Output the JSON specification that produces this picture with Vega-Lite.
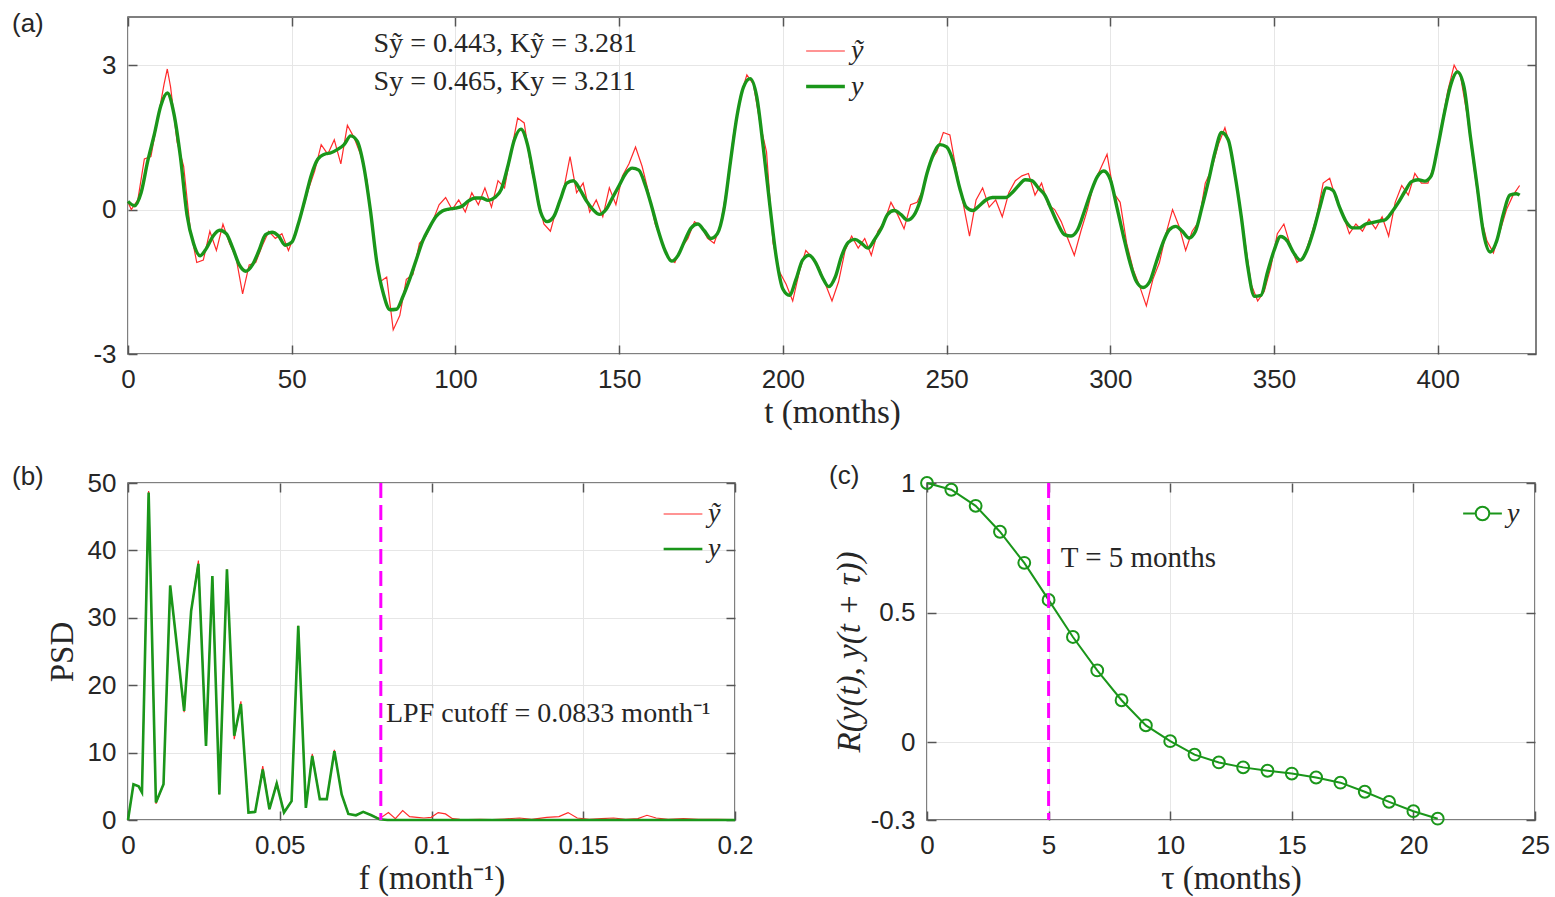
{
"$schema":"https://vega.github.io/schema/vega-lite/v6.json",
"padding":{"left":11,"top":10,"right":4,"bottom":4},
"background":"white",
"config":{
 "view":{"stroke":"#555555","strokeWidth":1.5},
 "axis":{"labelFont":"Liberation Sans","labelFontSize":26,"labelColor":"#262626","titleFont":"Liberation Serif","titleFontSize":33,"titleFontWeight":"normal","titleColor":"#262626","gridColor":"#e6e6e6","gridWidth":1,"domain":false,"tickColor":"#555555","tickSize":-9,"tickWidth":1.5,"labelPadding":21,"titlePadding":4,"labelFlush":false,"labelOverlap":false},
 "legend":{"orient":"none","title":null,"padding":0,"labelFont":"Liberation Serif","labelFontStyle":"italic","labelFontSize":28,"labelColor":"#262626","labelOffset":4,"rowPadding":-8,"symbolType":"stroke","symbolSize":1500},
 "title":{"anchor":"start","frame":"group","orient":"top","offset":0,"baseline":"top","font":"Liberation Sans","fontSize":26,"fontWeight":"normal","color":"#262626"}
},
"spacing":32,
"resolve":{"scale":{"color":"independent","strokeWidth":"independent"}},
"vconcat":[
 {
  "width":1408,"height":337,
  "title":{"text":"(a)","dx":-116,"dy":25},
  "resolve":{"axis":{"x":"independent","y":"independent"}},
  "layer":[
   {"data":{"name":"aRed"},"mark":{"type":"line","interpolate":"linear"},
    "encoding":{
     "x":{"field":"t","type":"quantitative","scale":{"domain":[0,430],"nice":false,"zero":false},"axis":{"values":[0,50,100,150,200,250,300,350,400],"title":"t (months)"}},
     "y":{"field":"v","type":"quantitative","scale":{"domain":[-3,4],"nice":false,"zero":false},"axis":{"values":[-3,0,3],"title":null,"labelExpr":"replace(format(datum.value,'~g'),'−','-')"}},
     "color":{"field":"s","type":"nominal","scale":{"domain":["ỹ","y"],"range":["#ff2a2a","#1a961a"]},"legend":{"legendX":676,"legendY":14}},
     "strokeWidth":{"field":"s","type":"nominal","scale":{"domain":["ỹ","y"],"range":[1.2,3.4]},"legend":{"legendX":676,"legendY":14}}
    }},
   {"data":{"name":"aGreen"},"mark":{"type":"line","interpolate":"monotone"},
    "encoding":{
     "x":{"field":"t","type":"quantitative","axis":null},
     "y":{"field":"v","type":"quantitative","axis":null},
     "color":{"field":"s","type":"nominal"},
     "strokeWidth":{"field":"s","type":"nominal"}
    }},
   {"data":{"name":"aText"},"mark":{"type":"text","align":"left","baseline":"middle","font":"Liberation Serif","fontSize":28,"color":"#262626"},
    "encoding":{
     "x":{"field":"x","type":"quantitative","axis":{"orient":"top","labels":false,"title":null,"grid":false,"values":[0,50,100,150,200,250,300,350,400]}},
     "y":{"field":"y","type":"quantitative","axis":{"orient":"right","labels":false,"title":null,"grid":false,"values":[-3,0,3]}},
     "text":{"field":"label"}}}
  ]
 },
 {
  "hconcat":[
   {
    "width":607,"height":337,
    "title":{"text":"(b)","dx":-116,"dy":24},
    "resolve":{"axis":{"x":"independent","y":"independent"}},
    "layer":[
     {"data":{"name":"bRed"},"mark":{"type":"line"},
      "encoding":{
       "x":{"field":"f","type":"quantitative","scale":{"domain":[0,0.2],"nice":false,"zero":false},"axis":{"values":[0,0.05,0.1,0.15,0.2],"format":"~g","title":"f (month⁻¹)"}},
       "y":{"field":"p","type":"quantitative","scale":{"domain":[0,50],"nice":false},"axis":{"values":[0,10,20,30,40,50],"title":"PSD","titlePadding":8}},
       "color":{"field":"s","type":"nominal","scale":{"domain":["ỹ","y"],"range":["#ff2a2a","#1a961a"]},"legend":{"legendX":534,"legendY":11,"rowPadding":-6}},
       "strokeWidth":{"field":"s","type":"nominal","scale":{"domain":["ỹ","y"],"range":[1.2,2.6]},"legend":{"legendX":534,"legendY":11,"rowPadding":-6}}
      }},
     {"data":{"name":"bGreen"},"mark":{"type":"line"},
      "encoding":{
       "x":{"field":"f","type":"quantitative","axis":null},
       "y":{"field":"p","type":"quantitative","axis":null},
       "color":{"field":"s","type":"nominal"},
       "strokeWidth":{"field":"s","type":"nominal"}
      }},
     {"data":{"name":"bRule"},"mark":{"type":"rule","color":"#ff00ff","strokeWidth":3,"strokeDash":[15,7]},"encoding":{"x":{"field":"x","type":"quantitative","axis":null}}},
     {"data":{"name":"bText"},"mark":{"type":"text","align":"left","baseline":"middle","font":"Liberation Serif","fontSize":28,"color":"#262626"},
      "encoding":{
       "x":{"field":"x","type":"quantitative","axis":{"orient":"top","labels":false,"title":null,"grid":false,"values":[0,0.05,0.1,0.15,0.2]}},
       "y":{"field":"y","type":"quantitative","axis":{"orient":"right","labels":false,"title":null,"grid":false,"values":[0,10,20,30,40,50]}},
       "text":{"field":"label"}}}
    ]
   },
   {
    "width":608,"height":337,
    "title":{"text":"(c)","dx":-98,"dy":23},
    "resolve":{"axis":{"x":"independent","y":"independent"}},
    "layer":[
     {"data":{"name":"cData"},"mark":{"type":"line","strokeWidth":2},
      "encoding":{
       "x":{"field":"tau","type":"quantitative","scale":{"domain":[0,25],"nice":false,"zero":false},"axis":{"values":[0,5,10,15,20,25],"title":"τ (months)"}},
       "y":{"field":"r","type":"quantitative","scale":{"domain":[-0.3,1],"nice":false,"zero":false},"axis":{"values":[-0.3,0,0.5,1],"labelExpr":"replace(format(datum.value,'~g'),'−','-')","title":"R(y(t), y(t + τ))","titleFontStyle":"italic","titlePadding":4}},
       "color":{"field":"s","type":"nominal","scale":{"domain":["y"],"range":["#1a961a"]},"legend":{"legendX":535,"legendY":10,"symbolType":"M-1,0H-0.35M0.35,0H1M0.35,0A0.35,0.35,0,1,1,-0.35,0A0.35,0.35,0,1,1,0.35,0","symbolSize":1500,"symbolStrokeWidth":2,"symbolFillColor":"transparent"}}
      }},
     {"data":{"name":"cData"},"mark":{"type":"point","shape":"circle","filled":false,"size":140,"strokeWidth":2,"color":"#1a961a","opacity":1},
      "encoding":{"x":{"field":"tau","type":"quantitative","axis":null},"y":{"field":"r","type":"quantitative","axis":null}}},
     {"data":{"name":"cRule"},"mark":{"type":"rule","color":"#ff00ff","strokeWidth":3,"strokeDash":[15,7]},"encoding":{"x":{"field":"x","type":"quantitative","axis":null}}},
     {"data":{"name":"cText"},"mark":{"type":"text","align":"left","baseline":"middle","font":"Liberation Serif","fontSize":29,"color":"#262626"},
      "encoding":{
       "x":{"field":"x","type":"quantitative","axis":{"orient":"top","labels":false,"title":null,"grid":false,"values":[0,5,10,15,20,25]}},
       "y":{"field":"y","type":"quantitative","axis":{"orient":"right","labels":false,"title":null,"grid":false,"values":[-0.3,0,0.5,1]}},
       "text":{"field":"label"}}}
    ]
   }
  ],
  "spacing":74,
  "resolve":{"scale":{"color":"independent","strokeWidth":"independent"}}
 }
],
"datasets":{
 "aText":[{"x":75,"y":3.44,"label":"Sỹ = 0.443,  Kỹ = 3.281"},{"x":75,"y":2.64,"label":"Sy = 0.465,  Ky = 3.211"}],
 "bText":[{"x":0.085,"y":15.8,"label":"LPF cutoff = 0.0833 month⁻¹"}],
 "cText":[{"x":5.5,"y":0.71,"label":"T = 5 months"}],
 "bRule":[{"x":0.0833}],
 "cRule":[{"x":5}],
 "cData":[
  {"tau":0,"r":1.0,"s":"y"},{"tau":1,"r":0.974,"s":"y"},{"tau":2,"r":0.912,"s":"y"},{"tau":3,"r":0.812,"s":"y"},{"tau":4,"r":0.692,"s":"y"},{"tau":5,"r":0.549,"s":"y"},{"tau":6,"r":0.406,"s":"y"},{"tau":7,"r":0.277,"s":"y"},{"tau":8,"r":0.162,"s":"y"},{"tau":9,"r":0.065,"s":"y"},{"tau":10,"r":0.004,"s":"y"},{"tau":11,"r":-0.048,"s":"y"},{"tau":12,"r":-0.078,"s":"y"},{"tau":13,"r":-0.097,"s":"y"},{"tau":14,"r":-0.11,"s":"y"},{"tau":15,"r":-0.121,"s":"y"},{"tau":16,"r":-0.136,"s":"y"},{"tau":17,"r":-0.156,"s":"y"},{"tau":18,"r":-0.191,"s":"y"},{"tau":19,"r":-0.23,"s":"y"},{"tau":20,"r":-0.266,"s":"y"},{"tau":21,"r":-0.295,"s":"y"}
 ],
 "bGreen":[
  {"f":0,"p":0,"s":"y"},{"f":0.0018,"p":5.3,"s":"y"},{"f":0.0035,"p":5.0,"s":"y"},{"f":0.0046,"p":4.1,"s":"y"},{"f":0.0068,"p":48.6,"s":"y"},{"f":0.0092,"p":2.6,"s":"y"},{"f":0.0117,"p":5.3,"s":"y"},{"f":0.0139,"p":34.8,"s":"y"},{"f":0.0185,"p":16.2,"s":"y"},{"f":0.0208,"p":31.0,"s":"y"},{"f":0.0232,"p":38.0,"s":"y"},{"f":0.0257,"p":11.0,"s":"y"},{"f":0.0278,"p":36.2,"s":"y"},{"f":0.0301,"p":3.8,"s":"y"},{"f":0.0326,"p":37.2,"s":"y"},{"f":0.035,"p":12.5,"s":"y"},{"f":0.0372,"p":17.2,"s":"y"},{"f":0.0397,"p":1.1,"s":"y"},{"f":0.0419,"p":1.2,"s":"y"},{"f":0.0444,"p":7.5,"s":"y"},{"f":0.0466,"p":1.6,"s":"y"},{"f":0.049,"p":5.4,"s":"y"},{"f":0.0514,"p":1.1,"s":"y"},{"f":0.0539,"p":2.8,"s":"y"},{"f":0.0561,"p":28.8,"s":"y"},{"f":0.0586,"p":1.8,"s":"y"},{"f":0.0607,"p":9.5,"s":"y"},{"f":0.0632,"p":3.1,"s":"y"},{"f":0.0655,"p":3.1,"s":"y"},{"f":0.068,"p":10.2,"s":"y"},{"f":0.0704,"p":3.8,"s":"y"},{"f":0.0726,"p":0.9,"s":"y"},{"f":0.0751,"p":0.7,"s":"y"},{"f":0.0775,"p":1.2,"s":"y"},{"f":0.0802,"p":0.7,"s":"y"},{"f":0.0829,"p":0.1,"s":"y"},{"f":0.0855,"p":0,"s":"y"},{"f":0.2,"p":0,"s":"y"}
 ],
 "bRed":[
  {"f":0,"p":0,"s":"ỹ"},{"f":0.0018,"p":5.3,"s":"ỹ"},{"f":0.0035,"p":5.0,"s":"ỹ"},{"f":0.0046,"p":4.1,"s":"ỹ"},{"f":0.0068,"p":48.8,"s":"ỹ"},{"f":0.0092,"p":2.4,"s":"ỹ"},{"f":0.0117,"p":5.3,"s":"ỹ"},{"f":0.0139,"p":34.8,"s":"ỹ"},{"f":0.0185,"p":16.0,"s":"ỹ"},{"f":0.0208,"p":31.0,"s":"ỹ"},{"f":0.0232,"p":38.5,"s":"ỹ"},{"f":0.0257,"p":11.0,"s":"ỹ"},{"f":0.0278,"p":36.2,"s":"ỹ"},{"f":0.0301,"p":3.8,"s":"ỹ"},{"f":0.0326,"p":37.2,"s":"ỹ"},{"f":0.035,"p":12.0,"s":"ỹ"},{"f":0.0372,"p":17.6,"s":"ỹ"},{"f":0.0397,"p":1.1,"s":"ỹ"},{"f":0.0419,"p":1.2,"s":"ỹ"},{"f":0.0444,"p":8.0,"s":"ỹ"},{"f":0.0466,"p":1.6,"s":"ỹ"},{"f":0.049,"p":5.6,"s":"ỹ"},{"f":0.0514,"p":1.1,"s":"ỹ"},{"f":0.0539,"p":2.8,"s":"ỹ"},{"f":0.0561,"p":28.8,"s":"ỹ"},{"f":0.0586,"p":1.8,"s":"ỹ"},{"f":0.0607,"p":9.8,"s":"ỹ"},{"f":0.0632,"p":3.1,"s":"ỹ"},{"f":0.0655,"p":3.1,"s":"ỹ"},{"f":0.068,"p":10.4,"s":"ỹ"},{"f":0.0704,"p":3.8,"s":"ỹ"},{"f":0.0726,"p":0.9,"s":"ỹ"},{"f":0.0751,"p":0.7,"s":"ỹ"},{"f":0.0775,"p":1.2,"s":"ỹ"},{"f":0.0802,"p":0.7,"s":"ỹ"},{"f":0.0829,"p":0.2,"s":"ỹ"},{"f":0.0858,"p":1.1,"s":"ỹ"},{"f":0.0881,"p":0.2,"s":"ỹ"},{"f":0.0905,"p":1.4,"s":"ỹ"},{"f":0.0928,"p":0.5,"s":"ỹ"},{"f":0.0952,"p":0.4,"s":"ỹ"},{"f":0.0975,"p":0.3,"s":"ỹ"},{"f":0.0999,"p":0.4,"s":"ỹ"},{"f":0.1022,"p":1.1,"s":"ỹ"},{"f":0.1046,"p":0.9,"s":"ỹ"},{"f":0.1069,"p":0.2,"s":"ỹ"},{"f":0.1093,"p":0.1,"s":"ỹ"},{"f":0.112,"p":0.05,"s":"ỹ"},{"f":0.116,"p":0.1,"s":"ỹ"},{"f":0.12,"p":0.05,"s":"ỹ"},{"f":0.124,"p":0.15,"s":"ỹ"},{"f":0.129,"p":0.3,"s":"ỹ"},{"f":0.133,"p":0.1,"s":"ỹ"},{"f":0.138,"p":0.4,"s":"ỹ"},{"f":0.142,"p":0.5,"s":"ỹ"},{"f":0.145,"p":1.1,"s":"ỹ"},{"f":0.148,"p":0.3,"s":"ỹ"},{"f":0.152,"p":0.1,"s":"ỹ"},{"f":0.156,"p":0.2,"s":"ỹ"},{"f":0.16,"p":0.3,"s":"ỹ"},{"f":0.164,"p":0.1,"s":"ỹ"},{"f":0.168,"p":0.2,"s":"ỹ"},{"f":0.171,"p":0.7,"s":"ỹ"},{"f":0.174,"p":0.3,"s":"ỹ"},{"f":0.178,"p":0.1,"s":"ỹ"},{"f":0.183,"p":0.2,"s":"ỹ"},{"f":0.188,"p":0.1,"s":"ỹ"},{"f":0.194,"p":0.1,"s":"ỹ"},{"f":0.2,"p":0.05,"s":"ỹ"}
 ],
 "aGreen":[
  {"t":0,"v":0.17,"s":"y"},{"t":2,"v":0.08,"s":"y"},{"t":4,"v":0.35,"s":"y"},{"t":6,"v":1.0,"s":"y"},{"t":8,"v":1.55,"s":"y"},{"t":10,"v":2.15,"s":"y"},{"t":12,"v":2.42,"s":"y"},{"t":14,"v":2.0,"s":"y"},{"t":16,"v":1.1,"s":"y"},{"t":18,"v":-0.1,"s":"y"},{"t":20,"v":-0.7,"s":"y"},{"t":22,"v":-0.96,"s":"y"},{"t":24,"v":-0.8,"s":"y"},{"t":26,"v":-0.55,"s":"y"},{"t":28,"v":-0.43,"s":"y"},{"t":30,"v":-0.5,"s":"y"},{"t":32,"v":-0.8,"s":"y"},{"t":34,"v":-1.15,"s":"y"},{"t":36,"v":-1.28,"s":"y"},{"t":38,"v":-1.15,"s":"y"},{"t":40,"v":-0.85,"s":"y"},{"t":42,"v":-0.52,"s":"y"},{"t":44,"v":-0.47,"s":"y"},{"t":46,"v":-0.55,"s":"y"},{"t":48,"v":-0.74,"s":"y"},{"t":50,"v":-0.68,"s":"y"},{"t":52,"v":-0.3,"s":"y"},{"t":54,"v":0.2,"s":"y"},{"t":56,"v":0.72,"s":"y"},{"t":58,"v":1.05,"s":"y"},{"t":60,"v":1.15,"s":"y"},{"t":62,"v":1.18,"s":"y"},{"t":64,"v":1.25,"s":"y"},{"t":66,"v":1.35,"s":"y"},{"t":68,"v":1.53,"s":"y"},{"t":70,"v":1.42,"s":"y"},{"t":72,"v":0.9,"s":"y"},{"t":74,"v":0.0,"s":"y"},{"t":76,"v":-1.1,"s":"y"},{"t":78,"v":-1.75,"s":"y"},{"t":80,"v":-2.08,"s":"y"},{"t":82,"v":-2.07,"s":"y"},{"t":84,"v":-1.8,"s":"y"},{"t":86,"v":-1.45,"s":"y"},{"t":88,"v":-1.05,"s":"y"},{"t":90,"v":-0.65,"s":"y"},{"t":92,"v":-0.38,"s":"y"},{"t":94,"v":-0.15,"s":"y"},{"t":96,"v":-0.03,"s":"y"},{"t":98,"v":0.01,"s":"y"},{"t":100,"v":0.03,"s":"y"},{"t":102,"v":0.07,"s":"y"},{"t":104,"v":0.18,"s":"y"},{"t":106,"v":0.24,"s":"y"},{"t":108,"v":0.24,"s":"y"},{"t":110,"v":0.19,"s":"y"},{"t":112,"v":0.25,"s":"y"},{"t":114,"v":0.42,"s":"y"},{"t":116,"v":0.9,"s":"y"},{"t":118,"v":1.45,"s":"y"},{"t":120,"v":1.67,"s":"y"},{"t":122,"v":1.35,"s":"y"},{"t":124,"v":0.65,"s":"y"},{"t":126,"v":-0.05,"s":"y"},{"t":128,"v":-0.25,"s":"y"},{"t":130,"v":-0.15,"s":"y"},{"t":132,"v":0.2,"s":"y"},{"t":134,"v":0.55,"s":"y"},{"t":136,"v":0.6,"s":"y"},{"t":138,"v":0.42,"s":"y"},{"t":140,"v":0.18,"s":"y"},{"t":142,"v":0.0,"s":"y"},{"t":144,"v":-0.1,"s":"y"},{"t":146,"v":0.0,"s":"y"},{"t":148,"v":0.25,"s":"y"},{"t":150,"v":0.5,"s":"y"},{"t":152,"v":0.75,"s":"y"},{"t":154,"v":0.86,"s":"y"},{"t":156,"v":0.82,"s":"y"},{"t":158,"v":0.5,"s":"y"},{"t":160,"v":0.05,"s":"y"},{"t":162,"v":-0.45,"s":"y"},{"t":164,"v":-0.85,"s":"y"},{"t":166,"v":-1.07,"s":"y"},{"t":168,"v":-0.95,"s":"y"},{"t":170,"v":-0.65,"s":"y"},{"t":172,"v":-0.38,"s":"y"},{"t":174,"v":-0.3,"s":"y"},{"t":176,"v":-0.44,"s":"y"},{"t":178,"v":-0.6,"s":"y"},{"t":180,"v":-0.5,"s":"y"},{"t":182,"v":0.0,"s":"y"},{"t":184,"v":1.0,"s":"y"},{"t":186,"v":1.95,"s":"y"},{"t":188,"v":2.55,"s":"y"},{"t":190,"v":2.72,"s":"y"},{"t":192,"v":2.35,"s":"y"},{"t":194,"v":1.3,"s":"y"},{"t":196,"v":0.1,"s":"y"},{"t":198,"v":-1.0,"s":"y"},{"t":200,"v":-1.65,"s":"y"},{"t":202,"v":-1.78,"s":"y"},{"t":204,"v":-1.45,"s":"y"},{"t":206,"v":-1.05,"s":"y"},{"t":208,"v":-0.95,"s":"y"},{"t":210,"v":-1.1,"s":"y"},{"t":212,"v":-1.4,"s":"y"},{"t":214,"v":-1.6,"s":"y"},{"t":216,"v":-1.4,"s":"y"},{"t":218,"v":-0.95,"s":"y"},{"t":220,"v":-0.68,"s":"y"},{"t":222,"v":-0.62,"s":"y"},{"t":224,"v":-0.7,"s":"y"},{"t":226,"v":-0.8,"s":"y"},{"t":228,"v":-0.62,"s":"y"},{"t":230,"v":-0.4,"s":"y"},{"t":232,"v":-0.1,"s":"y"},{"t":234,"v":-0.02,"s":"y"},{"t":236,"v":-0.1,"s":"y"},{"t":238,"v":-0.22,"s":"y"},{"t":240,"v":-0.12,"s":"y"},{"t":242,"v":0.2,"s":"y"},{"t":244,"v":0.75,"s":"y"},{"t":246,"v":1.15,"s":"y"},{"t":248,"v":1.35,"s":"y"},{"t":250,"v":1.3,"s":"y"},{"t":252,"v":1.0,"s":"y"},{"t":254,"v":0.45,"s":"y"},{"t":256,"v":0.05,"s":"y"},{"t":258,"v":-0.02,"s":"y"},{"t":260,"v":0.08,"s":"y"},{"t":262,"v":0.2,"s":"y"},{"t":264,"v":0.25,"s":"y"},{"t":266,"v":0.25,"s":"y"},{"t":268,"v":0.25,"s":"y"},{"t":270,"v":0.35,"s":"y"},{"t":272,"v":0.5,"s":"y"},{"t":274,"v":0.62,"s":"y"},{"t":276,"v":0.6,"s":"y"},{"t":278,"v":0.45,"s":"y"},{"t":280,"v":0.3,"s":"y"},{"t":282,"v":0.0,"s":"y"},{"t":284,"v":-0.3,"s":"y"},{"t":286,"v":-0.52,"s":"y"},{"t":288,"v":-0.55,"s":"y"},{"t":290,"v":-0.42,"s":"y"},{"t":292,"v":-0.05,"s":"y"},{"t":294,"v":0.35,"s":"y"},{"t":296,"v":0.68,"s":"y"},{"t":298,"v":0.8,"s":"y"},{"t":300,"v":0.62,"s":"y"},{"t":302,"v":0.05,"s":"y"},{"t":304,"v":-0.55,"s":"y"},{"t":306,"v":-1.1,"s":"y"},{"t":308,"v":-1.5,"s":"y"},{"t":310,"v":-1.62,"s":"y"},{"t":312,"v":-1.5,"s":"y"},{"t":314,"v":-1.1,"s":"y"},{"t":316,"v":-0.7,"s":"y"},{"t":318,"v":-0.42,"s":"y"},{"t":320,"v":-0.35,"s":"y"},{"t":322,"v":-0.45,"s":"y"},{"t":324,"v":-0.59,"s":"y"},{"t":326,"v":-0.45,"s":"y"},{"t":328,"v":0.05,"s":"y"},{"t":330,"v":0.6,"s":"y"},{"t":332,"v":1.2,"s":"y"},{"t":334,"v":1.6,"s":"y"},{"t":336,"v":1.45,"s":"y"},{"t":338,"v":0.75,"s":"y"},{"t":340,"v":-0.15,"s":"y"},{"t":342,"v":-1.2,"s":"y"},{"t":344,"v":-1.8,"s":"y"},{"t":346,"v":-1.78,"s":"y"},{"t":348,"v":-1.3,"s":"y"},{"t":350,"v":-0.85,"s":"y"},{"t":352,"v":-0.56,"s":"y"},{"t":354,"v":-0.65,"s":"y"},{"t":356,"v":-0.9,"s":"y"},{"t":358,"v":-1.05,"s":"y"},{"t":360,"v":-0.85,"s":"y"},{"t":362,"v":-0.45,"s":"y"},{"t":364,"v":0.05,"s":"y"},{"t":366,"v":0.45,"s":"y"},{"t":368,"v":0.4,"s":"y"},{"t":370,"v":0.05,"s":"y"},{"t":372,"v":-0.25,"s":"y"},{"t":374,"v":-0.38,"s":"y"},{"t":376,"v":-0.38,"s":"y"},{"t":378,"v":-0.3,"s":"y"},{"t":380,"v":-0.27,"s":"y"},{"t":382,"v":-0.24,"s":"y"},{"t":384,"v":-0.21,"s":"y"},{"t":386,"v":-0.05,"s":"y"},{"t":388,"v":0.15,"s":"y"},{"t":390,"v":0.38,"s":"y"},{"t":392,"v":0.58,"s":"y"},{"t":394,"v":0.62,"s":"y"},{"t":396,"v":0.59,"s":"y"},{"t":398,"v":0.7,"s":"y"},{"t":400,"v":1.3,"s":"y"},{"t":402,"v":2.0,"s":"y"},{"t":404,"v":2.6,"s":"y"},{"t":406,"v":2.86,"s":"y"},{"t":408,"v":2.55,"s":"y"},{"t":410,"v":1.5,"s":"y"},{"t":412,"v":0.5,"s":"y"},{"t":414,"v":-0.5,"s":"y"},{"t":416,"v":-0.88,"s":"y"},{"t":418,"v":-0.65,"s":"y"},{"t":420,"v":-0.1,"s":"y"},{"t":422,"v":0.3,"s":"y"},{"t":424,"v":0.33,"s":"y"},{"t":425,"v":0.3,"s":"y"}
 ],
 "aRed":[
  {"t":0,"v":0.15,"s":"ỹ"},{"t":1,"v":0.0,"s":"ỹ"},{"t":3,"v":0.2,"s":"ỹ"},{"t":5,"v":1.05,"s":"ỹ"},{"t":7,"v":1.1,"s":"ỹ"},{"t":9,"v":1.85,"s":"ỹ"},{"t":11,"v":2.6,"s":"ỹ"},{"t":12,"v":2.92,"s":"ỹ"},{"t":13,"v":2.55,"s":"ỹ"},{"t":15,"v":1.4,"s":"ỹ"},{"t":17,"v":0.9,"s":"ỹ"},{"t":19,"v":-0.4,"s":"ỹ"},{"t":21,"v":-1.1,"s":"ỹ"},{"t":23,"v":-1.05,"s":"ỹ"},{"t":25,"v":-0.45,"s":"ỹ"},{"t":27,"v":-0.85,"s":"ỹ"},{"t":29,"v":-0.3,"s":"ỹ"},{"t":31,"v":-0.7,"s":"ỹ"},{"t":33,"v":-1.0,"s":"ỹ"},{"t":35,"v":-1.75,"s":"ỹ"},{"t":37,"v":-1.15,"s":"ỹ"},{"t":39,"v":-1.1,"s":"ỹ"},{"t":41,"v":-0.75,"s":"ỹ"},{"t":43,"v":-0.45,"s":"ỹ"},{"t":45,"v":-0.6,"s":"ỹ"},{"t":47,"v":-0.5,"s":"ỹ"},{"t":49,"v":-0.85,"s":"ỹ"},{"t":51,"v":-0.5,"s":"ỹ"},{"t":53,"v":-0.1,"s":"ỹ"},{"t":55,"v":0.4,"s":"ỹ"},{"t":57,"v":0.8,"s":"ỹ"},{"t":59,"v":1.35,"s":"ỹ"},{"t":61,"v":1.15,"s":"ỹ"},{"t":63,"v":1.45,"s":"ỹ"},{"t":65,"v":0.95,"s":"ỹ"},{"t":67,"v":1.75,"s":"ỹ"},{"t":69,"v":1.5,"s":"ỹ"},{"t":71,"v":1.15,"s":"ỹ"},{"t":73,"v":0.6,"s":"ỹ"},{"t":75,"v":-0.6,"s":"ỹ"},{"t":77,"v":-1.5,"s":"ỹ"},{"t":79,"v":-1.4,"s":"ỹ"},{"t":81,"v":-2.5,"s":"ỹ"},{"t":83,"v":-2.2,"s":"ỹ"},{"t":85,"v":-1.45,"s":"ỹ"},{"t":87,"v":-1.35,"s":"ỹ"},{"t":89,"v":-0.7,"s":"ỹ"},{"t":91,"v":-0.55,"s":"ỹ"},{"t":93,"v":-0.25,"s":"ỹ"},{"t":95,"v":0.1,"s":"ỹ"},{"t":97,"v":0.25,"s":"ỹ"},{"t":99,"v":0.0,"s":"ỹ"},{"t":101,"v":0.2,"s":"ỹ"},{"t":103,"v":-0.05,"s":"ỹ"},{"t":105,"v":0.35,"s":"ỹ"},{"t":107,"v":0.1,"s":"ỹ"},{"t":109,"v":0.45,"s":"ỹ"},{"t":111,"v":0.05,"s":"ỹ"},{"t":113,"v":0.6,"s":"ỹ"},{"t":115,"v":0.45,"s":"ỹ"},{"t":117,"v":1.2,"s":"ỹ"},{"t":119,"v":1.9,"s":"ỹ"},{"t":121,"v":1.8,"s":"ỹ"},{"t":123,"v":0.9,"s":"ỹ"},{"t":125,"v":0.3,"s":"ỹ"},{"t":127,"v":-0.3,"s":"ỹ"},{"t":129,"v":-0.45,"s":"ỹ"},{"t":131,"v":0.05,"s":"ỹ"},{"t":133,"v":0.4,"s":"ỹ"},{"t":135,"v":1.1,"s":"ỹ"},{"t":137,"v":0.35,"s":"ỹ"},{"t":139,"v":0.55,"s":"ỹ"},{"t":141,"v":-0.05,"s":"ỹ"},{"t":143,"v":0.2,"s":"ỹ"},{"t":145,"v":-0.15,"s":"ỹ"},{"t":147,"v":0.45,"s":"ỹ"},{"t":149,"v":0.1,"s":"ỹ"},{"t":151,"v":0.7,"s":"ỹ"},{"t":153,"v":0.95,"s":"ỹ"},{"t":155,"v":1.3,"s":"ỹ"},{"t":157,"v":0.9,"s":"ỹ"},{"t":159,"v":0.35,"s":"ỹ"},{"t":161,"v":-0.3,"s":"ỹ"},{"t":163,"v":-0.65,"s":"ỹ"},{"t":165,"v":-1.0,"s":"ỹ"},{"t":167,"v":-1.1,"s":"ỹ"},{"t":169,"v":-0.8,"s":"ỹ"},{"t":171,"v":-0.6,"s":"ỹ"},{"t":173,"v":-0.25,"s":"ỹ"},{"t":175,"v":-0.35,"s":"ỹ"},{"t":177,"v":-0.6,"s":"ỹ"},{"t":179,"v":-0.7,"s":"ỹ"},{"t":181,"v":-0.3,"s":"ỹ"},{"t":183,"v":0.5,"s":"ỹ"},{"t":185,"v":1.6,"s":"ỹ"},{"t":187,"v":2.35,"s":"ỹ"},{"t":189,"v":2.8,"s":"ỹ"},{"t":191,"v":2.6,"s":"ỹ"},{"t":193,"v":1.8,"s":"ỹ"},{"t":195,"v":1.2,"s":"ỹ"},{"t":197,"v":-0.7,"s":"ỹ"},{"t":199,"v":-1.3,"s":"ỹ"},{"t":201,"v":-1.55,"s":"ỹ"},{"t":203,"v":-1.9,"s":"ỹ"},{"t":205,"v":-1.3,"s":"ỹ"},{"t":207,"v":-0.85,"s":"ỹ"},{"t":209,"v":-1.0,"s":"ỹ"},{"t":211,"v":-1.2,"s":"ỹ"},{"t":213,"v":-1.55,"s":"ỹ"},{"t":215,"v":-1.9,"s":"ỹ"},{"t":217,"v":-1.5,"s":"ỹ"},{"t":219,"v":-0.85,"s":"ỹ"},{"t":221,"v":-0.55,"s":"ỹ"},{"t":223,"v":-0.8,"s":"ỹ"},{"t":225,"v":-0.6,"s":"ỹ"},{"t":227,"v":-0.95,"s":"ỹ"},{"t":229,"v":-0.45,"s":"ỹ"},{"t":231,"v":-0.25,"s":"ỹ"},{"t":233,"v":0.15,"s":"ỹ"},{"t":235,"v":-0.1,"s":"ỹ"},{"t":237,"v":-0.4,"s":"ỹ"},{"t":239,"v":0.1,"s":"ỹ"},{"t":241,"v":0.15,"s":"ỹ"},{"t":243,"v":0.45,"s":"ỹ"},{"t":245,"v":1.0,"s":"ỹ"},{"t":247,"v":1.2,"s":"ỹ"},{"t":249,"v":1.6,"s":"ỹ"},{"t":251,"v":1.55,"s":"ỹ"},{"t":253,"v":0.8,"s":"ỹ"},{"t":255,"v":0.15,"s":"ỹ"},{"t":257,"v":-0.55,"s":"ỹ"},{"t":259,"v":0.2,"s":"ỹ"},{"t":261,"v":0.45,"s":"ỹ"},{"t":263,"v":0.05,"s":"ỹ"},{"t":265,"v":0.2,"s":"ỹ"},{"t":267,"v":-0.15,"s":"ỹ"},{"t":269,"v":0.35,"s":"ỹ"},{"t":271,"v":0.6,"s":"ỹ"},{"t":273,"v":0.7,"s":"ỹ"},{"t":275,"v":0.75,"s":"ỹ"},{"t":277,"v":0.3,"s":"ỹ"},{"t":279,"v":0.55,"s":"ỹ"},{"t":281,"v":0.1,"s":"ỹ"},{"t":283,"v":0.0,"s":"ỹ"},{"t":285,"v":-0.25,"s":"ỹ"},{"t":287,"v":-0.6,"s":"ỹ"},{"t":289,"v":-0.95,"s":"ỹ"},{"t":291,"v":-0.45,"s":"ỹ"},{"t":293,"v":0.0,"s":"ỹ"},{"t":295,"v":0.55,"s":"ỹ"},{"t":297,"v":0.85,"s":"ỹ"},{"t":299,"v":1.15,"s":"ỹ"},{"t":301,"v":0.35,"s":"ỹ"},{"t":303,"v":0.15,"s":"ỹ"},{"t":305,"v":-0.7,"s":"ỹ"},{"t":307,"v":-1.25,"s":"ỹ"},{"t":309,"v":-1.6,"s":"ỹ"},{"t":311,"v":-2.0,"s":"ỹ"},{"t":313,"v":-1.45,"s":"ỹ"},{"t":315,"v":-1.1,"s":"ỹ"},{"t":317,"v":-0.5,"s":"ỹ"},{"t":319,"v":0.0,"s":"ỹ"},{"t":321,"v":-0.35,"s":"ỹ"},{"t":323,"v":-0.85,"s":"ỹ"},{"t":325,"v":-0.45,"s":"ỹ"},{"t":327,"v":-0.25,"s":"ỹ"},{"t":329,"v":0.55,"s":"ỹ"},{"t":331,"v":0.85,"s":"ỹ"},{"t":333,"v":1.35,"s":"ỹ"},{"t":335,"v":1.7,"s":"ỹ"},{"t":337,"v":1.2,"s":"ỹ"},{"t":339,"v":0.35,"s":"ỹ"},{"t":341,"v":-0.6,"s":"ỹ"},{"t":343,"v":-1.55,"s":"ỹ"},{"t":345,"v":-1.9,"s":"ỹ"},{"t":347,"v":-1.7,"s":"ỹ"},{"t":349,"v":-1.2,"s":"ỹ"},{"t":351,"v":-0.5,"s":"ỹ"},{"t":353,"v":-0.3,"s":"ỹ"},{"t":355,"v":-0.75,"s":"ỹ"},{"t":357,"v":-1.1,"s":"ỹ"},{"t":359,"v":-1.0,"s":"ỹ"},{"t":361,"v":-0.6,"s":"ỹ"},{"t":363,"v":-0.15,"s":"ỹ"},{"t":365,"v":0.55,"s":"ỹ"},{"t":367,"v":0.65,"s":"ỹ"},{"t":369,"v":0.2,"s":"ỹ"},{"t":371,"v":-0.1,"s":"ỹ"},{"t":373,"v":-0.5,"s":"ỹ"},{"t":375,"v":-0.3,"s":"ỹ"},{"t":377,"v":-0.45,"s":"ỹ"},{"t":379,"v":-0.2,"s":"ỹ"},{"t":381,"v":-0.4,"s":"ỹ"},{"t":383,"v":-0.15,"s":"ỹ"},{"t":385,"v":-0.55,"s":"ỹ"},{"t":387,"v":0.15,"s":"ỹ"},{"t":389,"v":0.5,"s":"ỹ"},{"t":391,"v":0.3,"s":"ỹ"},{"t":393,"v":0.75,"s":"ỹ"},{"t":395,"v":0.55,"s":"ỹ"},{"t":397,"v":0.55,"s":"ỹ"},{"t":399,"v":0.95,"s":"ỹ"},{"t":401,"v":1.7,"s":"ỹ"},{"t":403,"v":2.45,"s":"ỹ"},{"t":405,"v":3.0,"s":"ỹ"},{"t":407,"v":2.75,"s":"ỹ"},{"t":409,"v":1.95,"s":"ỹ"},{"t":411,"v":0.9,"s":"ỹ"},{"t":413,"v":-0.1,"s":"ỹ"},{"t":415,"v":-0.65,"s":"ỹ"},{"t":417,"v":-0.9,"s":"ỹ"},{"t":419,"v":-0.45,"s":"ỹ"},{"t":421,"v":0.0,"s":"ỹ"},{"t":423,"v":0.3,"s":"ỹ"},{"t":425,"v":0.5,"s":"ỹ"}
 ]
}
}
